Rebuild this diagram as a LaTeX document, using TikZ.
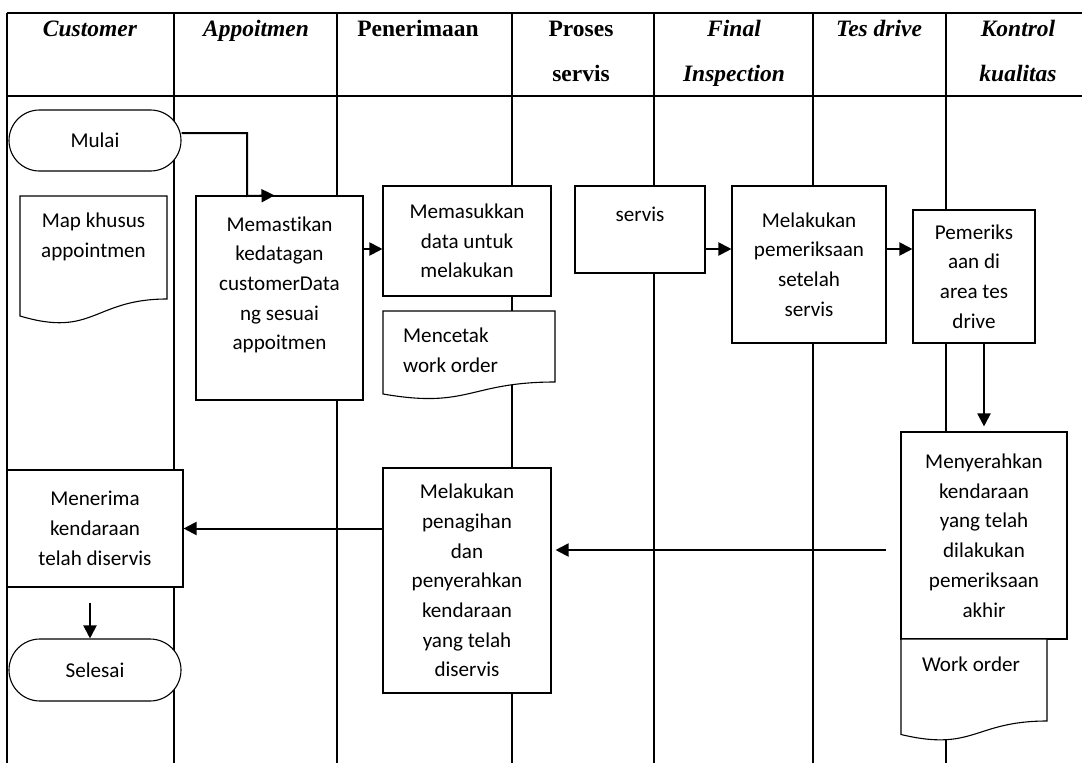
\documentclass[tikz,border=0pt]{standalone}
\usepackage{fontspec}
\setmainfont{Liberation Serif}
\newfontfamily\calibri[Ligatures=NoCommon]{Carlito}
\usetikzlibrary{arrows.meta, positioning, shapes.misc}

\begin{document}
\begin{tikzpicture}[>={Triangle[length=13pt, width=13pt]}, x=1pt, y=-1pt,
    lane/.style={line width=1.5pt},
    head/.style={font=\fontsize{23.5pt}{45pt}\selectfont\bfseries, align=center, anchor=base, inner sep=0pt},
    headit/.style={head, font=\fontsize{23.5pt}{45pt}\selectfont\bfseries\itshape},
    proc/.style={draw, line width=1.1pt, fill=white, align=center, inner sep=2pt,
        font=\calibri\fontsize{21.1pt}{29.7pt}\selectfont},
    term/.style={proc, rounded rectangle, minimum width=176pt, minimum height=61pt},
    note/.style={inner sep=0pt, align=center, anchor=base,
        font=\calibri\fontsize{21.1pt}{29.7pt}\selectfont},
    doc/.style={draw, line width=1.1pt, fill=white},
    flow/.style={->, line width=2pt}]
    \useasboundingbox (0,0) rectangle (1082,763);

    % swimlane table
    \draw[lane] (7,13) -- (1082,13) (7,96) -- (1082,96);
    \draw[lane] (7,13) -- (7,763) (174,13) -- (174,763) (337,13) -- (337,763)
        (512,13) -- (512,763) (654,13) -- (654,763) (813,13) -- (813,763)
        (946,13) -- (946,763);

    % headers (base = last line)
    \node[headit] (hcust) at (90,36) {Customer};
    \node[headit] (happ) at (256,36) {Appoitmen};
    \node[head] (hrecv) at (418,36) {Penerimaan};
    \node[head] (hserv) at (581,81) {Proses\\servis};
    \node[headit] (hfinal) at (734,81) {Final\\Inspection};
    \node[headit] (hdrive) at (879,36) {Tes drive};
    \node[headit] (hqc) at (1018,81) {Kontrol\\kualitas};

    % process steps
    \node[term] (start) at (95,140.5) {Mulai};
    \node[proc, minimum width=167pt, minimum height=204pt] (confirm) at (279.5,298)
        {Memastikan\\kedatagan\\customerData\\ng sesuai\\appoitmen\\~};
    \node[proc, minimum width=168pt, minimum height=110pt] (input) at (467,241)
        {Memasukkan\\data untuk\\melakukan};
    \node[proc, minimum width=130pt, minimum height=87pt] (service) at (640,229.5) {servis\\~};
    \node[proc, minimum width=154pt, minimum height=157pt] (inspect) at (809,264.5)
        {Melakukan\\pemeriksaan\\setelah\\servis};
    \node[proc, minimum width=122pt, minimum height=133pt] (drive) at (974,276.5)
        {Pemeriks\\aan di\\area tes\\drive};
    \node[proc, minimum width=166pt, minimum height=207pt] (handover) at (984,535.5)
        {Menyerahkan\\kendaraan\\yang telah\\dilakukan\\pemeriksaan\\akhir};
    \node[proc, minimum width=168pt, minimum height=225pt] (billing) at (467,580.5)
        {Melakukan\\penagihan\\dan\\penyerahkan\\kendaraan\\yang telah\\diservis};
    \node[proc, minimum width=176pt, minimum height=117pt] (receive) at (95,528.5)
        {Menerima\\kendaraan\\telah diservis};
    \node[term, minimum height=62pt] (finish) at (95,670) {Selesai};

    % documents
    \draw[doc] (20,196) -- (167,196) -- (167,299) .. controls (93.5,299) and (93.5,338) .. (20,316) -- cycle;
    \node[note] (map) at (93.5,257) {Map khusus\\appointmen};
    \draw[doc] (383,311) -- (555,311) -- (555,382) .. controls (469,382) and (469,409) .. (383,394) -- cycle;
    \node[note, anchor=base west, align=left] (print) at (403,372) {Mencetak\\work order};
    \draw[doc] (901,639) -- (1047,639) -- (1047,721) .. controls (974,721) and (974,752) .. (901,734.5) -- cycle;
    \node[note] (order) at (971,671) {Work order};

    \coordinate (elbow) at (247,196);
    \coordinate (row1) at (0,249);
    \coordinate (row2) at (0,550);

    \draw[flow] ([yshift=7.5pt]start.east) -| (elbow) -- ([xshift=-5pt]confirm.north);
    \path[flow]
    (confirm.east |- row1) edge (input.west |- row1)
    (service.east |- row1) edge (inspect.west |- row1)
    (inspect.east |- row1) edge (drive.west |- row1)
    (handover.north |- drive.south) edge[shorten >=5pt] (handover.north)
    (handover.west |- row2) edge[shorten <=14pt, shorten >=4pt] (billing.east |- row2)
    (billing.west |- receive.east) edge (receive.east)
    ([xshift=-5pt]receive.south) edge[shorten <=15pt] ([xshift=-5pt]finish.north);
\end{tikzpicture}
\end{document}
